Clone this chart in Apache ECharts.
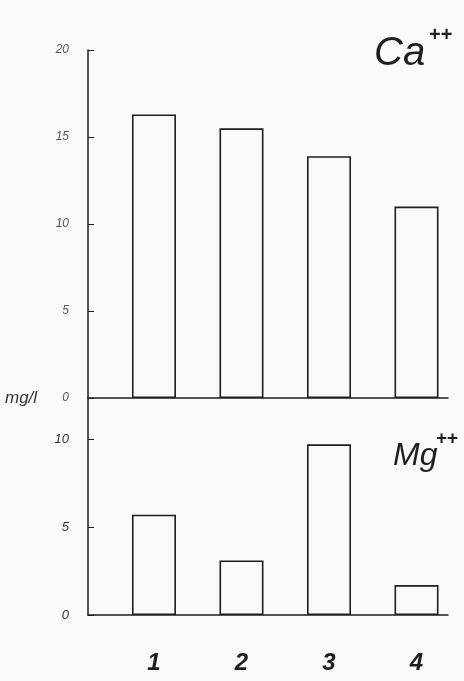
<!DOCTYPE html>
<html>
<head>
<meta charset="utf-8">
<script src="https://cdn.jsdelivr.net/npm/echarts@6/dist/echarts.min.js"></script>
<style>
html,body{margin:0;padding:0;background:#fafafa;}
#chart{width:464px;height:681px;}
</style>
</head>
<body>
<div id="chart"></div>
<script>
const categories = ['1', '2', '3', '4'];
const caValues = [16.3, 15.5, 13.9, 11.0];
const mgValues = [5.7, 3.1, 9.7, 1.7];
const caTicks = [0, 5, 10, 15, 20];
const mgTicks = [0, 5, 10];
const unitLabel = 'mg/l';

const positions = categories.map((c, i) => i + 1);
const ink = '#1e1e1e';
const fontFam = '"Liberation Sans", "DejaVu Sans", sans-serif';

const chart = echarts.init(document.getElementById('chart'), null, {renderer: 'canvas'});
const xCommon = {
  type: 'value', min: 0.246, max: 4.36,
  splitLine: {show: false},
  axisLine: {show: true, onZero: false, lineStyle: {color: ink, width: 1.5}},
};
const barStyle = {color: '#fafafa', borderColor: ink, borderWidth: 1.6};

chart.setOption({
  backgroundColor: '#fafafa',
  animation: false,
  grid: [
    {left: 88, top: 50, width: 360, height: 348},
    {left: 88, top: 398, width: 360, height: 217}
  ],
  xAxis: [
    Object.assign({}, xCommon, {gridIndex: 0, axisTick: {show: false}, axisLabel: {show: false}}),
    Object.assign({}, xCommon, {
      gridIndex: 1,
      axisTick: {show: false},
      axisLabel: {
        show: true, customValues: positions, margin: 36,
        formatter: v => categories[Math.round(v) - 1],
        fontSize: 24, fontStyle: 'italic', fontWeight: 'bold', color: ink, fontFamily: fontFam
      }
    })
  ],
  yAxis: [
    {
      type: 'value', gridIndex: 0, min: 0, max: 20,
      splitLine: {show: false},
      axisLine: {show: true, lineStyle: {color: ink, width: 1.5}},
      axisTick: {show: true, inside: true, length: 6, customValues: caTicks, lineStyle: {color: ink}},
      axisLabel: {customValues: caTicks, margin: 19, fontSize: 12, fontStyle: 'italic', color: '#555', fontFamily: fontFam}
    },
    {
      type: 'value', gridIndex: 1, min: 0, max: 12.33,
      splitLine: {show: false},
      axisLine: {show: true, lineStyle: {color: ink, width: 1.5}},
      axisTick: {show: true, inside: true, length: 6, customValues: mgTicks, lineStyle: {color: ink}},
      axisLabel: {customValues: mgTicks, margin: 19, fontSize: 13, fontStyle: 'italic', color: '#333', fontFamily: fontFam}
    }
  ],
  series: [
    {type: 'bar', xAxisIndex: 0, yAxisIndex: 0, barWidth: 44, itemStyle: barStyle,
     data: positions.map((p, i) => [p, caValues[i]])},
    {type: 'bar', xAxisIndex: 1, yAxisIndex: 1, barWidth: 44, itemStyle: barStyle,
     data: positions.map((p, i) => [p, mgValues[i]])}
  ],
  graphic: [
    {type: 'text', left: 5, top: 390, style: {text: unitLabel, fontSize: 17, fontStyle: 'italic', fill: '#333', fontFamily: fontFam}},
    {type: 'text', left: 374, top: 34, style: {text: 'Ca', fontSize: 40, fontStyle: 'italic', fill: ink, fontFamily: fontFam}},
    {type: 'text', left: 429, top: 25, style: {text: '++', fontSize: 20, fontWeight: 'bold', fill: ink, fontFamily: fontFam}},
    {type: 'text', left: 393, top: 440, style: {text: 'Mg', fontSize: 32, fontStyle: 'italic', fill: ink, fontFamily: fontFam}},
    {type: 'text', left: 436, top: 429, style: {text: '++', fontSize: 19, fontWeight: 'bold', fill: ink, fontFamily: fontFam}}
  ]
});
</script>
</body>
</html>
